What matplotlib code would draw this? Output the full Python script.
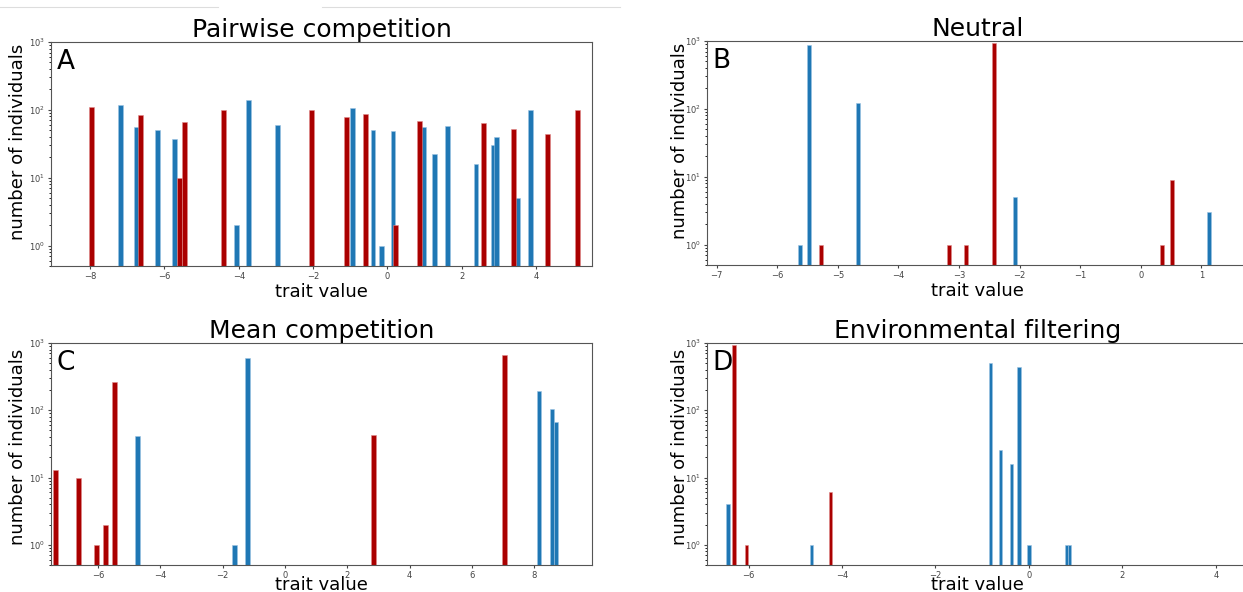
import matplotlib
matplotlib.use("Agg")
import matplotlib.pyplot as plt
from matplotlib.lines import Line2D

BLUE = "#1f77b4"
RED = "#aa0000"

# Panel A - pairwise competition
a_blue_x = [-7.19, -6.75, -6.18, -5.73, -4.07, -3.73, -2.96, -0.95, -0.39, -0.17,
            0.15, 0.96, 1.27, 1.61, 2.38, 2.84, 2.94, 3.50, 3.84]
a_blue_n = [116, 56, 51, 37, 2, 140, 60, 108, 51, 1,
            49, 55, 22, 57, 16, 30, 40, 5, 100]
a_red_x = [-7.97, -6.65, -5.60, -5.47, -4.41, -2.04, -1.11, -0.59, 0.21, 0.87,
           2.58, 3.38, 4.31, 5.11]
a_red_n = [111, 85, 10, 66, 99, 101, 79, 87, 2, 69, 64, 52, 44, 99]

# Panel B - neutral
b_blue_x = [-5.62, -5.48, -4.66, -2.07, 1.13]
b_blue_n = [1, 875, 120, 5, 3]
b_red_x = [-5.28, -3.17, -2.88, -2.42, 0.35, 0.52]
b_red_n = [1, 1, 1, 945, 1, 9]

# Panel C - mean competition
c_blue_x = [-4.74, -1.62, -1.20, 8.15, 8.57, 8.70]
c_blue_n = [42, 1, 589, 192, 106, 67]
c_red_x = [-7.36, -6.63, -6.06, -5.77, -5.48, 2.83, 7.05]
c_red_n = [13, 10, 1, 2, 261, 43, 673]

# Panel D - environmental filtering
d_blue_x = [-6.44, -4.66, -0.82, -0.60, -0.37, -0.21, 0.0, 0.80, 0.87]
d_blue_n = [4, 1, 508, 26, 16, 439, 1, 1, 1]
d_red_x = [-6.31, -6.04, -4.25]
d_red_n = [945, 1, 6]

panels = [
    ("Pairwise competition", "A", a_blue_x, a_blue_n, a_red_x, a_red_n, 0.13, (-9.05, 5.5),
     [51, 42, 592, 266], (-0.044, 0.555), 1),
    ("Neutral", "B", b_blue_x, b_blue_n, b_red_x, b_red_n, 0.065, (-7.16, 1.77),
     [707, 41, 1248, 265], (-0.034, 0.555), 1),
    ("Mean competition", "C", c_blue_x, c_blue_n, c_red_x, c_red_n, 0.15, (-7.51, 9.85),
     [51, 343, 592, 565], (-0.044, 0.53), -3),
    ("Environmental filtering", "D", d_blue_x, d_blue_n, d_red_x, d_red_n, 0.07, (-6.89, 4.69),
     [707, 343, 1248, 565], (-0.034, 0.53), -3),
]

W, H = 1243, 592
fig = plt.figure(figsize=(W / 100, H / 100), dpi=100)

for title, letter, bx, bn, rx, rn, width, xlim, (x0, y0, x1, y1), ylab_pos, xpad in panels:
    ax = fig.add_axes([x0 / W, (H - y1) / H, (x1 - x0) / W, (y1 - y0) / H])
    ax.bar(bx, bn, width=width, color=BLUE, edgecolor="#9cc3e2", linewidth=0.4)
    ax.bar(rx, rn, width=width, color=RED, edgecolor="#e08a8a", linewidth=0.4)
    ax.set_yscale("log")
    ax.set_ylim(0.5, 1000)
    ax.set_xlim(*xlim)
    ax.set_title(title, fontsize=18, pad=2)
    ax.set_xlabel("trait value", fontsize=13, labelpad=xpad)
    ax.set_ylabel("number of individuals", fontsize=13)
    ax.yaxis.set_label_coords(*ylab_pos)
    ax.text(0.01, 0.97, letter, transform=ax.transAxes, fontsize=19, va="top", ha="left")
    ax.tick_params(labelsize=6, length=2.5, pad=2, colors="#444444")
    ax.tick_params(which="minor", length=1.5)
    for s in ax.spines.values():
        s.set_color("#555555")

# faint screenshot border lines at the top left
fig.add_artist(Line2D([0, 218 / W], [1 - 7 / H, 1 - 7 / H], color="#dddddd", lw=0.8))
fig.add_artist(Line2D([322 / W, 620 / W], [1 - 7 / H, 1 - 7 / H], color="#dddddd", lw=0.8))

fig.savefig("out.png", dpi=100)
